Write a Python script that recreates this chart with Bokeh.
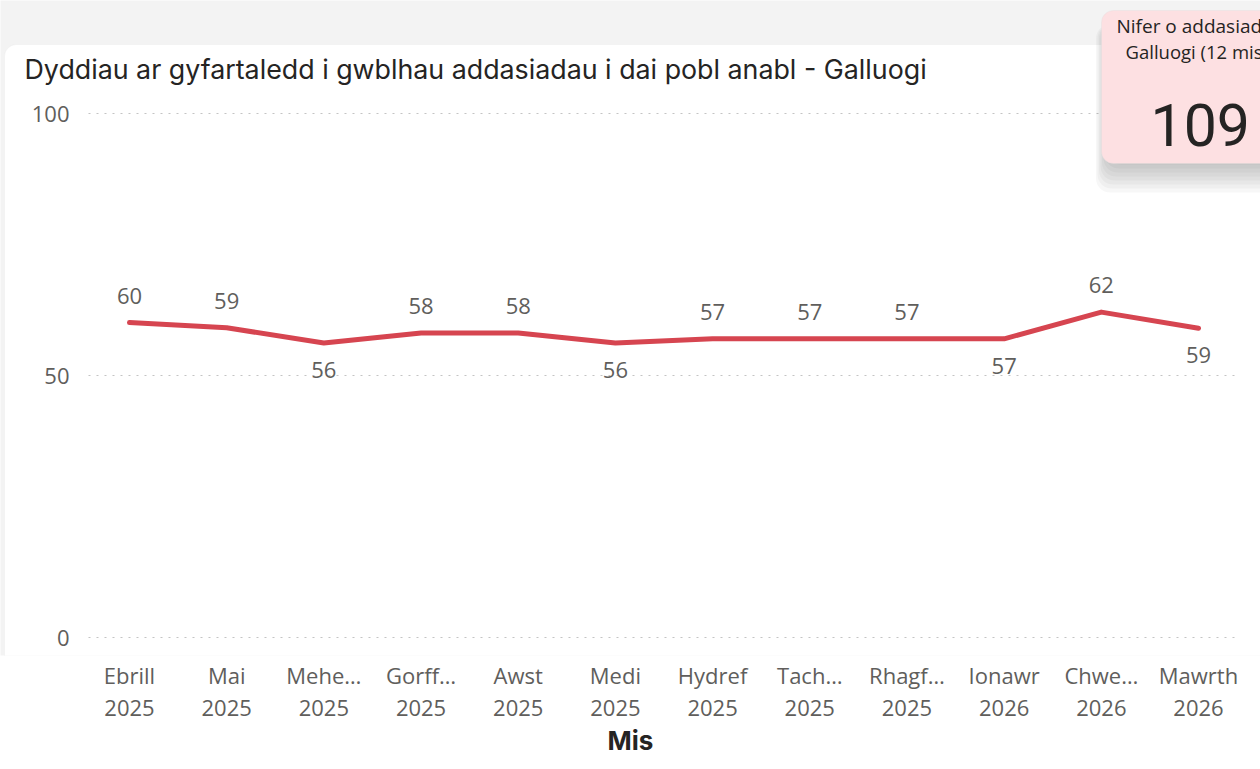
from bokeh.plotting import figure
from bokeh.models import ColumnDataSource, Range1d, FixedTicker, LabelSet, Label, BoxAnnotation
from bokeh.core.properties import value
from bokeh.embed import file_html
from bokeh.resources import INLINE

# ---- data ----
months = ["Ebrill", "Mai", "Mehe…", "Gorff…", "Awst", "Medi",
          "Hydref", "Tach…", "Rhagf…", "Ionawr", "Chwe…", "Mawrth"]
years = ["2025", "2025", "2025", "2025", "2025", "2025",
         "2025", "2025", "2025", "2026", "2026", "2026"]
avg_days = [60.1, 59.1, 56.2, 58.1, 58.1, 56.2, 57.0, 57.0, 57.0, 57.0, 62.1, 59.0]
y_ticks = [0, 50, 100]
chart_title = "Dyddiau ar gyfartaledd i gwblhau addasiadau i dai pobl anabl - Galluogi"
x_title = "Mis"
card_lines = ["Nifer o addasiadau", "Galluogi (12 mis)"]
card_value = "109"

# label placement (style): True = label drawn below the point
label_below = [False, False, True, False, False, True, False, False, False, True, False, True]

# ---- layout / style ----
W, H = 1260, 769
TXT = "#605E5C"
DARK = "#252423"
X_START, X_END = -1.3274, 11.638       # visible x range (frame spans whole width)
PLOT_X0, PLOT_X1 = -0.4219, 11.381     # plot area (axis + gridline extent)
Y_START, Y_END = -3.435, 121.565

xs = list(range(len(months)))
src = ColumnDataSource(dict(
    x=xs,
    y=avg_days,
    lbl=[f"{v:.0f}" for v in avg_days],
    dy=[-27 if b else 27 for b in label_below],
))
grid_src = ColumnDataSource(dict(y=y_ticks, x0=[PLOT_X0] * len(y_ticks), x1=[PLOT_X1] * len(y_ticks)))

p = figure(width=W, height=H, output_backend="svg", toolbar_location=None,
           x_range=Range1d(X_START, X_END), y_range=Range1d(Y_START, Y_END),
           min_border_left=0, min_border_right=0, min_border_top=0, min_border_bottom=114)
p.title.visible = False
p.outline_line_color = None
p.background_fill_color = "#F3F3F3"
p.border_fill_color = "white"
p.xgrid.visible = False
p.ygrid.visible = False


def canvas_box(**kw):
    return BoxAnnotation(left_units="canvas", right_units="canvas",
                         top_units="canvas", bottom_units="canvas", **kw)


# white visual container (under everything)
p.add_layout(canvas_box(left=4, right=W + 30, top=44, bottom=H + 60,
                        fill_color="white", fill_alpha=1, line_color="#E6E6E6",
                        line_width=1, border_radius=12, level="underlay"))

# axes
xa = p.xaxis[0]
xa.ticker = FixedTicker(ticks=xs)
xa.major_label_overrides = {i: f"{m}\n{y}" for i, (m, y) in enumerate(zip(months, years))}
ya = p.yaxis[0]
ya.ticker = FixedTicker(ticks=y_ticks)
ya.fixed_location = PLOT_X0
for ax in (xa, ya):
    ax.axis_line_color = None
    ax.major_tick_line_color = None
    ax.minor_tick_line_color = None
    ax.major_tick_out = 0
    ax.major_tick_in = 0
    ax.major_label_text_font = "Open Sans"
    ax.major_label_text_font_size = "22px"
    ax.major_label_text_color = TXT
xa.major_label_standoff = 4
xa.major_label_text_line_height = 1.08
ya.major_label_standoff = 19
xa.axis_label = x_title
xa.axis_label_text_font = "Inter"
xa.axis_label_text_font_style = "bold"
xa.axis_label_text_font_size = "26px"
xa.axis_label_text_color = DARK
xa.axis_label_standoff = 0

# dotted horizontal gridlines at the y ticks
p.segment(x0="x0", x1="x1", y0="y", y1="y", source=grid_src,
          line_color="#C4C4C4", line_dash="2 6", line_width=1.2)

p.line(x="x", y="y", source=src, line_color="#D64550", line_width=5,
       line_join="round", line_cap="round")

p.add_layout(LabelSet(x="x", y="y", text="lbl", y_offset="dy", source=src,
                      text_align="center", text_baseline="middle",
                      text_font=value("Open Sans"), text_font_size="22px",
                      text_color=TXT))

# title
p.add_layout(Label(x=24, y=68.5, x_units="canvas", y_units="canvas", text=chart_title,
                   text_font="Inter", text_font_size="26.8px", text_color=DARK,
                   text_baseline="alphabetic"))

# card shadow
for k in range(8):
    p.add_layout(canvas_box(left=1106 - 1.5 * k, right=W + 40, top=24, bottom=164 + 4 * k,
                            fill_color="black", fill_alpha=0.03, line_color=None,
                            border_radius=14))
# card
p.add_layout(canvas_box(left=1101, right=W + 40, top=10, bottom=163,
                        fill_color="#FDE0E2", fill_alpha=1, line_color="#DEDEDE",
                        line_width=1, border_radius=12))
p.add_layout(Label(x=1116, y=25.5, x_units="canvas", y_units="canvas", text=card_lines[0],
                   text_font="Open Sans", text_font_size="19px", text_color=DARK,
                   text_baseline="alphabetic"))
p.add_layout(Label(x=1125, y=50.5, x_units="canvas", y_units="canvas", text=card_lines[1],
                   text_font="Open Sans", text_font_size="18.5px", text_color=DARK,
                   text_baseline="alphabetic"))
p.add_layout(Label(x=1150, y=124, x_units="canvas", y_units="canvas", text=card_value,
                   text_font="Roboto", text_font_size="59px", text_color=DARK,
                   text_baseline="alphabetic"))

open("out.html", "w").write(file_html(p, INLINE))
